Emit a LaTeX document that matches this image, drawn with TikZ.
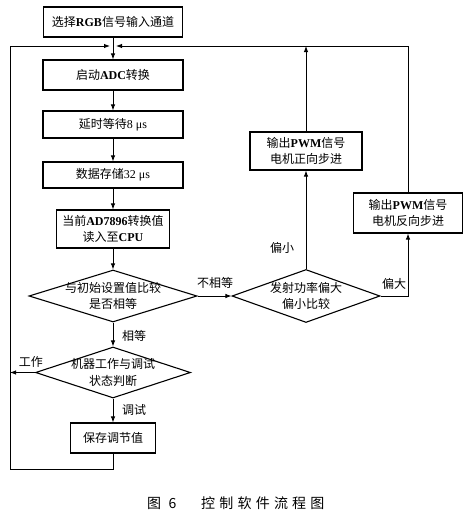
\documentclass[tikz,border=0pt]{standalone}
\usepackage{fontspec}
\setmainfont{Liberation Serif}
\newfontfamily\cjk{Noto Sans CJK SC}
\newfontfamily\capcjk[LetterSpace=30]{Noto Sans CJK SC}
\usetikzlibrary{shapes.geometric,arrows.meta}
\newcommand\C[1]{{\cjk #1}}
\begin{document}
\begin{tikzpicture}[x=1pt,y=-1pt,
  every node/.style={font=\fontsize{12}{16.5}\selectfont, inner sep=0pt},
  pbox/.style={draw, line width=1.1pt, align=center},
  dia/.style={draw, diamond, line width=1.1pt},
  lab/.style={font=\fontsize{12}{14}\selectfont},
  arr/.style={line width=0.9pt, -{Latex[length=6pt,width=4.5pt]}},
  ln/.style={line width=0.9pt}]
\useasboundingbox (0,0) rectangle (469,514);
% main column
\node[pbox, minimum width=139pt, minimum height=30pt] (b1) at (113,22) {\C{选择}\textbf{RGB}\C{信号输入通道}};
\node[pbox, minimum width=140pt, minimum height=30pt] (b2) at (113,75) {\C{启动}\textbf{ADC}\C{转换}};
\node[pbox, minimum width=140pt, minimum height=27pt] (b3) at (113,124.5) {\C{延时等待}8 μs};
\node[pbox, minimum width=140pt, minimum height=26pt] (b4) at (113,175) {\C{数据存储}32 μs};
\node[pbox, minimum width=113pt, minimum height=38pt] (b5) at (113,229) {\C{当前}\textbf{AD7896}\C{转换值}\\\C{读入至}\textbf{CPU}};
\node[dia, minimum width=168pt, minimum height=52pt] (d1) at (113,296) {};
\node[align=center] (d1t) at (d1.center) {\C{与初始设置值比较}\\\C{是否相等}};
\node[dia, minimum width=155pt, minimum height=51pt] (d3) at (113,372.5) {};
\node[align=center] (d3t) at (d3.center) {\C{机器工作与调试}\\\C{状态判断}};
\node[pbox, minimum width=85pt, minimum height=30pt] (b6) at (113,438) {\C{保存调节值}};
% right side
\node[dia, minimum width=148pt, minimum height=53pt] (d2) at (306,296) {};
\node[align=center] (d2t) at (d2.center) {\C{发射功率偏大}\\\C{偏小比较}};
\node[pbox, minimum width=112pt, minimum height=38pt] (p1) at (306,151) {\C{输出}\textbf{PWM}\C{信号}\\\C{电机正向步进}};
\node[pbox, minimum width=109pt, minimum height=40pt] (p2) at (408,213) {\C{输出}\textbf{PWM}\C{信号}\\\C{电机反向步进}};
% junction coordinates
\coordinate (lj) at (110,46);
\coordinate (rj) at (116,46);
\coordinate (ptop) at (306,46);
\coordinate (wl) at (10,372.5);
\coordinate (lb) at (10,469);
\coordinate (lt) at (10,46);
% connectors
\draw[arr] (b1) -- (b2);
\draw[arr] (b2) -- (b3);
\draw[arr] (b3) -- (b4);
\draw[arr] (b4) -- (b5);
\draw[arr] (b5) -- (d1);
\draw[arr] (d1.east) -- (d2.west);
\draw[arr] (d1.south) -- (d3.north);
\draw[arr] (d3.south) -- (b6.north);
\draw[arr] (d3.west) -- (wl);
\draw[ln] (b6.south) -- (b6.south |- lb) -- (lb) -- (lt);
\draw[arr] (lt) -- (lj);
\draw[arr] (d2.north) -- (p1.south);
\draw[arr] (p1.north) -- (ptop);
\draw[arr] (d2.east) -| (p2.south);
\draw[ln] (p2.north) -- (p2.north |- rj);
\draw[arr] (p2.north |- rj) -- (rj);
% labels
\node[lab] (l1) at (215,283) {\C{不相等}};
\node[lab] (l2) at (134,336) {\C{相等}};
\node[lab] (l3) at (31,362) {\C{工作}};
\node[lab] (l4) at (134,410) {\C{调试}};
\node[lab] (l5) at (282,248) {\C{偏小}};
\node[lab] (l6) at (394,284) {\C{偏大}};
% caption
\node[anchor=west, font=\fontsize{14}{16}\selectfont] (c1) at (147,503) {\capcjk 图 6};
\node[anchor=west, font=\fontsize{14}{16}\selectfont] (c2) at (201,503) {\capcjk 控制软件流程图};
\end{tikzpicture}
\end{document}
